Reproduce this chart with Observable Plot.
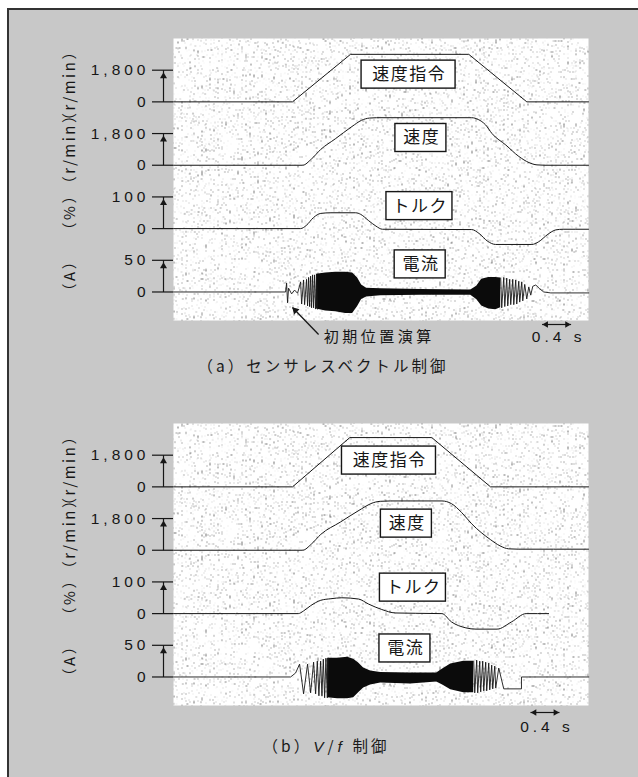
<!DOCTYPE html>
<html lang="ja">
<head>
<meta charset="utf-8">
<script src="https://cdn.jsdelivr.net/npm/d3@7"></script>
<script src="https://cdn.jsdelivr.net/npm/@observablehq/plot@0.6"></script>
<style>
html, body { margin:0; padding:0; background:#fff; }
#page { position:relative; width:638px; height:777px; overflow:hidden; }
#box { position:absolute; left:7px; top:8px; width:631px; height:769px; background:#c8c8c8; border-left:2px solid #333; border-top:2px solid #333; box-sizing:border-box; }
.panel { position:absolute; left:0; width:638px; }
.cap { position:absolute; transform:translateX(-50%); font-family:"Noto Sans CJK JP", sans-serif; font-size:15.5px; letter-spacing:3px; color:#1a1a1a; white-space:nowrap; line-height:18px; }
.cap i { font-family:"Liberation Sans", sans-serif; padding:0 1px; }
.panel g[aria-label="y-axis tick label"] text { font-family:"Liberation Sans", Arial, sans-serif; letter-spacing:4px; }
.panel g[aria-description="scale"] text { font-family:"Liberation Sans", Arial, sans-serif; letter-spacing:4px; }
.panel g[aria-description="unit"] text { letter-spacing:2.5px; }
.panel g[aria-description="channel"] text { letter-spacing:1.5px; }
.panel g[aria-description="note"] text { letter-spacing:3.5px; }
</style>
</head>
<body>
<svg width="0" height="0" style="position:absolute;left:0;top:0" aria-hidden="true">
<defs>
<filter id="speckle" x="0" y="0" width="1" height="1" color-interpolation-filters="sRGB">
<feTurbulence type="fractalNoise" baseFrequency="0.75 0.55" numOctaves="1" seed="4" result="n"/>
<feColorMatrix in="n" type="matrix" values="0 0 0 0 0.45  0 0 0 0 0.45  0 0 0 0 0.45  13 0 0 0 -8.4" result="d"/>
<feFlood flood-color="#ffffff" result="w"/>
<feComposite in="d" in2="w" operator="over"/>
</filter>
<pattern id="paper" patternUnits="userSpaceOnUse" width="430" height="300">
<rect width="430" height="300" fill="#fff" filter="url(#speckle)"/>
</pattern>
</defs>
</svg>
<div id="page">
  <div id="box"></div>
  <div id="pa" class="panel" style="top:0px"></div>
  <div id="pb" class="panel" style="top:385px"></div>
  <div class="cap" style="left:323px; top:356px">（a）センサレスベクトル制御</div>
  <div class="cap" style="left:326px; top:736px">（b）<i>V</i>/<i>f</i> 制御</div>
</div>
<script>
// ---------- text / categories ----------
const channelNames = ["速度指令", "速度", "トルク", "電流"];
const channelUnits = ["（r/min）", "（r/min）", "（%）", "（A）"];
const channelFullScale = [1800, 1800, 100, 50];
const topTickLabels = ["1,800", "1,800", "100", "50"];
const zeroTickLabel = "0";
const scaleBarLabel = "0.4 s";
const scaleBarSeconds = 0.4;
const noteLabel = "初期位置演算";

// ---------- (a) sensorless vector control : [time s, value] ----------
const aSpeedCmd = [[0,0],[1.64,0],[2.44,2700],[4.07,2700],[4.87,0],[5.72,0]];
const aSpeed = [[0,0],[1.78,0],[1.90,350],[2.03,900],[2.23,1500],[2.46,2200],[2.59,2550],[2.70,2680],[2.80,2700],[4.11,2700],[4.20,2600],[4.30,2300],[4.39,1800],[4.58,1150],[4.76,500],[4.90,150],[5.01,20],[5.12,0],[5.72,0]];
const aTorque = [[0,0],[1.75,0],[1.83,10],[1.93,35],[2.03,48],[2.17,50],[2.51,50],[2.58,45],[2.69,25],[2.79,8],[2.88,-2],[4.11,-3],[4.21,-15],[4.33,-40],[4.44,-50],[4.94,-50],[5.03,-42],[5.16,-18],[5.27,-4],[5.37,-2],[5.72,-2]];
const aCurrentStart = [[0,0],[1.545,0],[1.559,14],[1.572,-17],[1.586,6],[1.628,-3],[1.669,3],[1.710,-2],[1.752,16],[1.766,-19],[1.793,19],[1.807,-20],[1.834,20],[1.848,-22],[1.862,23],[1.876,-23],[1.890,25],[1.903,-25],[1.917,27],[1.931,-25],[1.945,27],[1.959,-27],[1.972,28],[1.986,-27]];
const aCurrentEnvelope = [[1.972,28,-27],[2.097,30,-30],[2.234,31,-31],[2.372,31,-34],[2.469,30,-34],[2.538,22,-23],[2.593,11,-12],[2.662,6,-8],[2.855,5,-6],[3.407,4,-5],[4.097,3,-5],[4.179,9,-12],[4.248,20,-22],[4.345,23,-27],[4.441,23,-28],[4.510,22,-25]];
const aCurrentEnd = [[4.510,22],[4.524,-25],[4.552,23],[4.566,-23],[4.593,22],[4.607,-22],[4.634,20],[4.648,-20],[4.676,20],[4.690,-20],[4.717,19],[4.731,-19],[4.759,17],[4.772,-16],[4.800,16],[4.814,-14],[4.841,12],[4.869,-11],[4.897,8],[4.924,-5],[4.952,9],[4.993,11],[5.048,5],[5.103,0],[5.200,-1.5],[5.724,-1.5]];

// ---------- (b) V/f control ----------
const bSpeedCmd = [[0,0],[1.64,0],[2.43,2800],[3.56,2800],[4.37,0],[5.72,0]];
const bSpeed = [[0,0],[1.78,0],[1.90,350],[2.03,900],[2.30,1600],[2.59,2350],[2.72,2650],[2.85,2780],[2.99,2800],[3.70,2800],[3.83,2650],[3.97,2150],[4.11,1500],[4.37,600],[4.50,250],[4.62,80],[4.75,60],[5.72,60]];
const bTorque = [[0,0],[1.72,0],[1.79,8],[1.89,25],[2.03,42],[2.17,47],[2.32,50],[2.55,46],[2.69,30],[2.87,13],[3.06,2],[3.34,1],[3.70,0],[3.83,-26],[4.03,-45],[4.17,-49],[4.46,-49],[4.66,-26],[4.86,0],[5.17,0]];
const bCurrentStart = [[0,0],[1.614,0],[1.683,6.3],[1.738,20.3],[1.793,-26.6],[1.848,20.3],[1.890,-25],[1.931,23.4],[1.959,-26.6],[1.982,25],[2.004,-29.7],[2.028,25],[2.046,-29.7],[2.065,28.1],[2.083,-32.8],[2.101,29.7],[2.120,-32.8],[2.138,29.7]];
const bCurrentEnvelope = [[2.124,29.7,-32.8],[2.262,29.7,-34.4],[2.400,31.3,-34.4],[2.483,28.1,-32.8],[2.552,21.9,-25],[2.621,14.1,-17.2],[2.717,9.4,-12.5],[2.855,7,-9.4],[3.269,6.3,-10.9],[3.628,6.3,-7.8],[3.710,12.5,-12.5],[3.821,20.3,-20.3],[4.000,25,-25],[4.138,25,-25]];
const bCurrentEnd = [[4.138,25],[4.152,-25],[4.179,26.6],[4.193,-25],[4.221,25],[4.234,-23.4],[4.262,25],[4.276,-21.9],[4.303,23.4],[4.317,-21.9],[4.345,21.9],[4.359,-20.3],[4.386,18.75],[4.400,-18.75],[4.428,17.2],[4.441,-17.2],[4.483,14.1],[4.552,-18.75],[4.796,-18.75],[4.796,0],[5.724,0]];

// ---------- layout (positions / sizes / styles) ----------
const layout = {
  channelOffset: [6, 4, 2, 0],
  xDomain: [0, 5.72],
  yDomain: [-0.9, 8.0],
  boxW: [94, 51, 66, 51],
  boxH: 28,
  ink: "#161616"
};
const panelA = {
  labelAt: [[3.24, 6.86], [3.41, 4.86], [3.39, 2.71], [3.40, 0.87]],
  scaleBarStart: 5.08, barDy: 4, textDy: 17,
  note: {tip: [1.64, -0.49], tail: [2.0, -1.34], text: [2.07, -1.44]}
};
const panelB = {
  labelAt: [[2.97, 6.83], [3.21, 4.84], [3.30, 2.82], [3.19, 0.90]],
  scaleBarStart: 4.92, barDy: 7, textDy: 22,
  note: null
};

function drawPanel(target, s, p) {
  const off = layout.channelOffset;
  const ink = layout.ink;
  const Y = (ch, v) => off[ch] + v / channelFullScale[ch];
  const pts = (arr, ch) => arr.map(([t, v]) => ({t, y: Y(ch, v)}));
  const idx = d3.range(4);
  const tickVals = idx.flatMap(i => [off[i], off[i] + 1]);
  const tickText = new Map(idx.flatMap(i => [[off[i], zeroTickLabel], [off[i] + 1, topTickLabels[i]]]));
  const yMin = layout.yDomain[0];

  const marks = [
    Plot.frame({fill: "url(#paper)", stroke: "none"}),
    Plot.axisY(tickVals, {anchor: "left", tickSize: 21, tickPadding: 3, tickFormat: d => tickText.get(d), fontSize: 15.5, strokeWidth: 1.2, label: null}),
    Plot.link(idx, {x1: 0, x2: 0, y1: i => off[i], y2: i => off[i] + 1, dx: -10, stroke: ink, strokeWidth: 1.2}),
    Plot.dot(idx, {x: 0, y: i => off[i] + 1, dx: -10, dy: 6, symbol: "triangle", r: 2.6, fill: ink, stroke: "none"}),
    Plot.text(idx, {x: 0, y: i => off[i] + 0.5, text: i => channelUnits[i], rotate: -90, dx: -103, dy: -1, fontSize: 15, fill: ink, ariaDescription: "unit"}),
    Plot.line(pts(s.cmd, 0), {x: "t", y: "y", stroke: ink, strokeWidth: 1}),
    Plot.line(pts(s.speed, 1), {x: "t", y: "y", stroke: ink, strokeWidth: 1, curve: "monotone-x"}),
    Plot.line(pts(s.torque, 2), {x: "t", y: "y", stroke: ink, strokeWidth: 1, curve: "monotone-x"}),
    Plot.areaY(s.env.map(([t, hi, lo]) => ({t, y1: Y(3, lo), y2: Y(3, hi)})), {x: "t", y1: "y1", y2: "y2", fill: "#0b0b0b"}),
    Plot.line(pts(s.curStart, 3), {x: "t", y: "y", stroke: ink, strokeWidth: 0.9}),
    Plot.line(pts(s.curEnd, 3), {x: "t", y: "y", stroke: ink, strokeWidth: 0.9}),
    ...idx.map(i => Plot.rect([p.labelAt[i]], {
      x1: d => d[0], x2: d => d[0], y1: d => d[1], y2: d => d[1],
      insetLeft: -layout.boxW[i] / 2, insetRight: -layout.boxW[i] / 2,
      insetTop: -layout.boxH / 2, insetBottom: -layout.boxH / 2,
      fill: "white", stroke: ink, strokeWidth: 1.4
    })),
    Plot.text(idx, {x: i => p.labelAt[i][0], y: i => p.labelAt[i][1], text: i => channelNames[i], fontSize: 17, fill: ink, dx: 0.75, ariaDescription: "channel"}),
    Plot.link([0], {x1: p.scaleBarStart, x2: p.scaleBarStart + scaleBarSeconds, y1: yMin, y2: yMin, dy: p.barDy, stroke: ink, strokeWidth: 1.2}),
    Plot.dot([0], {x: p.scaleBarStart, y: yMin, dx: 4, dy: p.barDy, symbol: "triangle", rotate: -90, r: 2.4, fill: ink, stroke: "none"}),
    Plot.dot([0], {x: p.scaleBarStart + scaleBarSeconds, y: yMin, dx: -4, dy: p.barDy, symbol: "triangle", rotate: 90, r: 2.4, fill: ink, stroke: "none"}),
    Plot.text([0], {x: p.scaleBarStart + scaleBarSeconds / 2, y: yMin, dy: p.textDy, dx: 2, text: () => scaleBarLabel, fontSize: 15.5, fill: ink, ariaDescription: "scale"})
  ];
  if (p.note) {
    const n = p.note;
    marks.push(
      Plot.link([0], {x1: n.tail[0], y1: n.tail[1], x2: n.tip[0], y2: n.tip[1], stroke: ink, strokeWidth: 1.3}),
      Plot.dot([0], {x: n.tip[0], y: n.tip[1], dx: 2.8, dy: 2.9, symbol: "triangle", rotate: -44, r: 2.8, fill: ink, stroke: "none"}),
      Plot.text([0], {x: n.text[0], y: n.text[1], text: () => noteLabel, textAnchor: "start", fontSize: 15, fill: ink, ariaDescription: "note"})
    );
  }
  const chart = Plot.plot({
    width: 638, height: 352,
    marginLeft: 173, marginRight: 50, marginTop: 38, marginBottom: 32,
    x: {domain: layout.xDomain, axis: null},
    y: {domain: layout.yDomain},
    style: {background: "transparent", color: ink, fontFamily: "'Noto Sans CJK JP', 'Noto Sans', sans-serif", overflow: "visible"},
    marks
  });
  document.getElementById(target).append(chart);
}

drawPanel("pa", {cmd: aSpeedCmd, speed: aSpeed, torque: aTorque, env: aCurrentEnvelope, curStart: aCurrentStart, curEnd: aCurrentEnd}, panelA);
drawPanel("pb", {cmd: bSpeedCmd, speed: bSpeed, torque: bTorque, env: bCurrentEnvelope, curStart: bCurrentStart, curEnd: bCurrentEnd}, panelB);
</script>
</body>
</html>
